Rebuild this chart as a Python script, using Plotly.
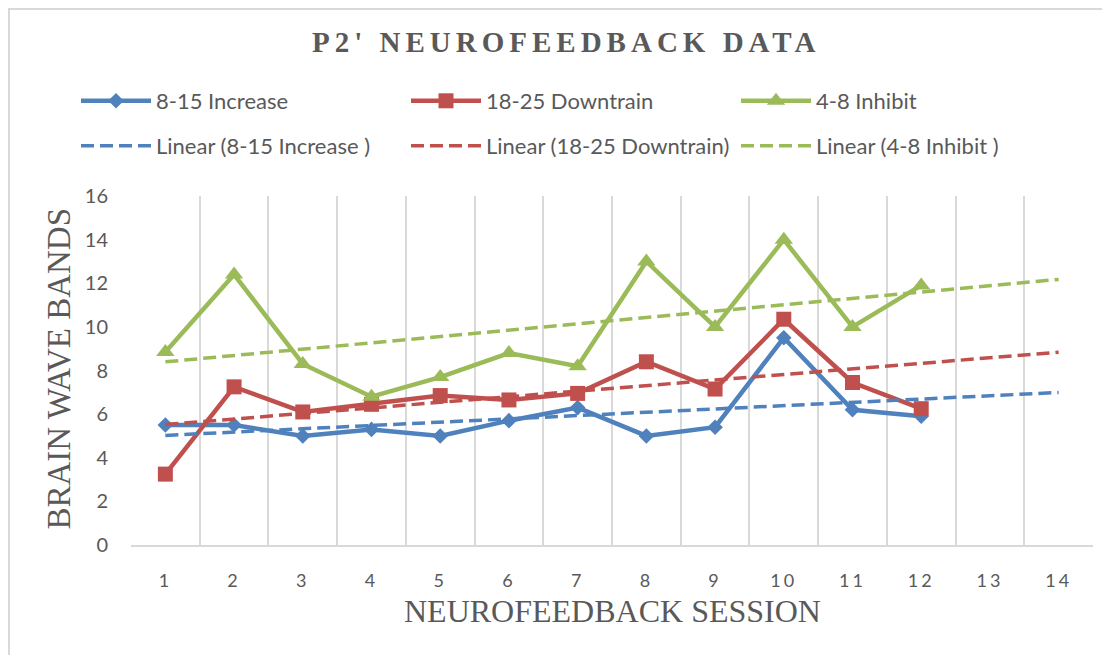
import numpy as np
import plotly.graph_objects as go

sessions = list(range(1, 15))
data_sessions = list(range(1, 13))
tick_labels = [str(s) for s in sessions]

increase_8_15 = [5.5, 5.5, 5.0, 5.3, 5.0, 5.7, 6.3, 5.0, 5.4, 9.5, 6.2, 5.9]
downtrain_18_25 = [3.25, 7.25, 6.1, 6.45, 6.85, 6.65, 6.95, 8.4, 7.15, 10.35, 7.45, 6.25]
inhibit_4_8 = [8.85, 12.4, 8.3, 6.8, 7.7, 8.8, 8.2, 13.0, 10.0, 14.0, 10.0, 11.9]

series_names = ["8-15 Increase", "18-25 Downtrain", "4-8 Inhibit"]
trend_names = ["Linear (8-15 Increase )", "Linear (18-25 Downtrain)", "Linear (4-8 Inhibit )"]
colors = ["#4F81BD", "#C0504D", "#9BBB59"]
symbols = ["diamond", "square", "triangle-up"]
msizes = [12, 15, 16]

OFF = 8  # page offset of the figure
W, H = 1102, 647
L = 131 - OFF
T = 196 - OFF
R = W - (1093 - OFF)
B = H - (545 - OFF)
pw = W - L - R
ph = H - T - B

def px_x(x):
    return (x - OFF - L) / pw

def px_y(y):
    return (H - B - (y - OFF)) / ph

TEXT = "#595959"
SANS = "Lato, 'Noto Sans', sans-serif"
SERIF = "'Liberation Serif', 'Times New Roman', serif"

fig = go.Figure()
all_series = [increase_8_15, downtrain_18_25, inhibit_4_8]
for vals, name, c, sym, ms in zip(all_series, series_names, colors, symbols, msizes):
    fig.add_trace(go.Scatter(
        x=data_sessions, y=vals, name=name, mode="lines+markers",
        line=dict(color=c, width=4.5),
        marker=dict(symbol=sym, size=ms, color=c, line=dict(width=0)),
        legend="legend",
    ))

for vals, name, c in zip(all_series, trend_names, colors):
    slope, intercept = np.polyfit(data_sessions, vals, 1)
    ty = [slope * s + intercept for s in sessions]
    fig.add_trace(go.Scatter(
        x=sessions, y=ty, name=name, mode="lines",
        line=dict(color=c, width=3.5, dash="13px,6px"),
        legend="legend2",
    ))

legend_common = dict(
    orientation="h", xanchor="left", yanchor="middle",
    x=px_x(76), entrywidth=245, entrywidthmode="pixels", itemwidth=70,
    font=dict(family=SANS, size=22, color=TEXT),
    bgcolor="rgba(0,0,0,0)", borderwidth=0,
)

fig.update_layout(
    width=W, height=H,
    margin=dict(l=L, r=R, t=T, b=B, autoexpand=False),
    paper_bgcolor="white", plot_bgcolor="white",
    showlegend=True,
    legend=dict(**legend_common, y=px_y(101)),
    legend2=dict(**legend_common, y=px_y(146)),
    xaxis=dict(
        range=[0.5, 14.5], tickmode="array", tickvals=sessions,
        ticktext=['<span style="letter-spacing:3px">%s</span>' % t for t in tick_labels],
        showgrid=False, zeroline=False,
        showline=True, linecolor="#D9D9D9", linewidth=2,
        ticks="", ticklabelstandoff=18,
        tickfont=dict(family=SANS, size=18, color=TEXT),
        minor=dict(tick0=0.5, dtick=1, showgrid=True, gridcolor="#D9D9D9", gridwidth=2, ticks=""),
    ),
    yaxis=dict(
        range=[0, 16], dtick=2, tick0=0,
        showgrid=False, zeroline=False, showline=False,
        ticks="", ticklabelstandoff=22,
        tickfont=dict(family=SANS, size=20, color=TEXT),
    ),
    annotations=[
        dict(text='<b><span style="letter-spacing:5px">P2\' NEUROFEEDBACK DATA</span></b>',
             xref="paper", yref="paper", x=px_x(566), y=px_y(42),
             xanchor="center", yanchor="middle", showarrow=False,
             font=dict(family=SERIF, size=29, color=TEXT)),
        dict(text="NEUROFEEDBACK SESSION",
             xref="paper", yref="paper", x=px_x(612), y=px_y(611),
             xanchor="center", yanchor="middle", showarrow=False,
             font=dict(family=SERIF, size=32, color=TEXT)),
        dict(text="BRAIN WAVE BANDS", textangle=-90,
             xref="paper", yref="paper", x=px_x(58.5), y=px_y(369),
             xanchor="center", yanchor="middle", showarrow=False,
             font=dict(family=SERIF, size=33, color=TEXT)),
    ],
    shapes=[
        dict(type="rect", xref="paper", yref="paper",
             x0=px_x(9), x1=px_x(1130), y0=px_y(680), y1=px_y(9),
             line=dict(color="#D9D9D9", width=2), fillcolor="rgba(0,0,0,0)", layer="below"),
    ],
)

fig.write_html("out.html")
